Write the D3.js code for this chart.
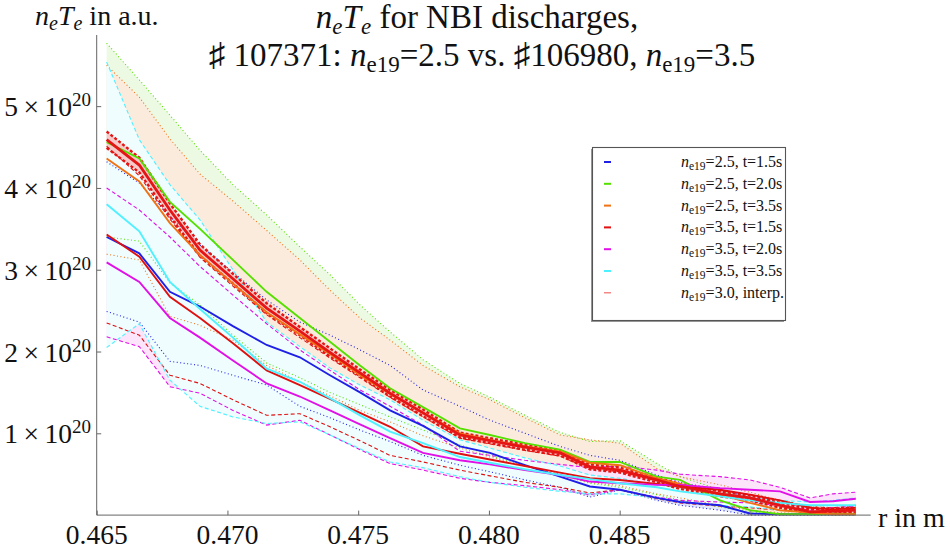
<!DOCTYPE html>
<html>
<head>
<meta charset="utf-8">
<script src="https://cdn.jsdelivr.net/npm/d3@7"></script>
<style>
body { margin: 0; background: #fff; }
</style>
</head>
<body>
<div id="chart"></div>
<script>
// radius grid in m, values in units of 1e20
var rGrid = [0.46538, 0.46663, 0.46780, 0.46895, 0.47021, 0.47150, 0.47277, 0.47392, 0.47507, 0.47622, 0.47748, 0.47889, 0.48004, 0.48138, 0.48272, 0.48386, 0.48501, 0.48642, 0.48731, 0.48884, 0.48998, 0.49113, 0.49228, 0.49316, 0.49403];

var blueMean  = [3.40,3.20,2.73,2.55,2.31,2.08,1.93,1.71,1.50,1.28,1.09,0.84,0.76,0.61,0.47,0.35,0.31,0.21,0.16,0.12,0.02,0.01,0.01,0.01,0.01];
var blueUpper = [4.32,4.06,3.65,3.30,2.97,2.63,2.36,2.20,2.02,1.83,1.53,1.33,1.16,1.00,0.84,0.73,0.67,0.49,0.40,0.31,0.22,0.15,0.09,0.06,0.05];
var blueLower = [2.49,2.36,1.88,1.83,1.71,1.59,1.33,1.19,1.04,0.90,0.73,0.61,0.53,0.43,0.34,0.22,0.31,0.18,0.12,0.06,0.00,0.00,0.00,0.00,0.00];

var greenMean  = [4.56,4.36,3.83,3.50,3.12,2.73,2.41,2.12,1.83,1.55,1.32,1.06,0.98,0.88,0.80,0.65,0.65,0.47,0.43,0.18,0.06,0.01,0.01,0.01,0.01];
var greenUpper = [5.77,5.32,4.89,4.46,4.04,3.67,3.28,2.94,2.57,2.24,1.90,1.61,1.44,1.22,1.01,0.90,0.91,0.63,0.47,0.31,0.18,0.09,0.04,0.03,0.03];
var greenLower = [3.40,3.35,2.84,2.57,2.20,1.86,1.68,1.50,1.35,1.20,1.04,0.86,0.73,0.61,0.49,0.39,0.34,0.25,0.18,0.10,0.04,0.01,0.01,0.01,0.01];

var orangeMean  = [4.36,4.08,3.57,3.18,2.83,2.48,2.21,1.97,1.71,1.48,1.25,1.00,0.92,0.84,0.78,0.64,0.61,0.45,0.38,0.25,0.15,0.06,0.03,0.01,0.01];
var orangeUpper = [5.50,5.11,4.60,4.17,3.84,3.48,3.12,2.75,2.41,2.14,1.83,1.57,1.41,1.19,0.98,0.92,0.88,0.57,0.47,0.37,0.28,0.18,0.11,0.09,0.06];
var orangeLower = [3.19,3.12,2.43,2.32,2.14,1.83,1.63,1.46,1.28,1.14,0.97,0.82,0.71,0.60,0.50,0.40,0.36,0.26,0.21,0.12,0.06,0.03,0.01,0.01,0.01];

var redMean  = [3.43,3.16,2.67,2.41,2.10,1.77,1.59,1.42,1.25,1.08,0.84,0.75,0.68,0.60,0.52,0.45,0.43,0.38,0.35,0.31,0.25,0.18,0.09,0.07,0.09];
var redUpper = [4.51,4.15,3.62,3.15,2.80,2.45,2.17,1.92,1.68,1.44,1.20,0.94,0.87,0.79,0.72,0.57,0.53,0.42,0.36,0.30,0.25,0.18,0.10,0.09,0.12];
var redLower = [2.35,2.20,1.71,1.61,1.41,1.22,1.24,1.08,0.91,0.73,0.65,0.55,0.48,0.40,0.34,0.27,0.31,0.20,0.15,0.11,0.09,0.06,0.04,0.04,0.04];

var magentaMean  = [3.09,2.85,2.41,2.17,1.89,1.61,1.45,1.28,1.11,0.94,0.76,0.67,0.62,0.55,0.49,0.41,0.39,0.37,0.37,0.33,0.31,0.29,0.16,0.17,0.20];
var magentaUpper = [4.00,3.73,3.40,3.04,2.69,2.34,2.02,1.77,1.53,1.33,1.10,0.78,0.73,0.67,0.62,0.58,0.60,0.55,0.50,0.47,0.43,0.34,0.21,0.26,0.28];
var magentaLower = [2.18,2.06,1.57,1.49,1.28,1.10,1.16,0.98,0.80,0.63,0.55,0.45,0.40,0.36,0.31,0.25,0.31,0.22,0.18,0.16,0.15,0.12,0.06,0.09,0.11];

var cyanMean  = [3.80,3.47,2.85,2.52,2.17,1.79,1.63,1.43,1.22,1.02,0.88,0.71,0.64,0.56,0.49,0.44,0.39,0.34,0.29,0.23,0.18,0.15,0.12,0.12,0.12];
var cyanUpper = [5.54,4.59,4.04,3.61,3.00,2.36,2.06,1.80,1.59,1.41,1.16,0.92,0.82,0.70,0.60,0.49,0.45,0.37,0.33,0.27,0.22,0.18,0.16,0.18,0.21];
var cyanLower = [2.05,2.34,1.65,1.33,1.20,1.12,1.14,0.98,0.81,0.65,0.58,0.47,0.40,0.34,0.29,0.26,0.26,0.21,0.16,0.12,0.10,0.06,0.04,0.05,0.06];

var interpMean  = [4.59,4.28,3.73,3.24,2.89,2.53,2.25,1.99,1.74,1.49,1.25,0.98,0.91,0.83,0.76,0.59,0.55,0.43,0.35,0.26,0.21,0.12,0.04,0.05,0.06];
var interpUpper = [4.69,4.37,3.81,3.31,2.95,2.59,2.30,2.04,1.78,1.53,1.29,1.01,0.94,0.86,0.79,0.62,0.58,0.46,0.38,0.29,0.24,0.15,0.07,0.08,0.09];
var interpLower = [4.49,4.19,3.65,3.17,2.83,2.47,2.20,1.94,1.70,1.45,1.21,0.95,0.88,0.80,0.73,0.56,0.52,0.40,0.32,0.23,0.18,0.09,0.02,0.02,0.03];

var legendLabels = ["=2.5, t=1.5s", "=2.5, t=2.0s", "=2.5, t=3.5s", "=3.5, t=1.5s", "=3.5, t=2.0s", "=3.5, t=3.5s", "=3.0, interp."];
var xTicks = [0.465, 0.470, 0.475, 0.480, 0.485, 0.490];
var yTicks = [1, 2, 3, 4, 5];

var width = 950, height = 551;
var serif = "Liberation Serif, Times New Roman, DejaVu Serif, serif";

var svg = d3.select("#chart").append("svg")
    .attr("width", width)
    .attr("height", height)
    .attr("font-family", serif);

var x = d3.scaleLinear().domain([0.465, 0.4946]).range([96.7, 870.7]);
var y = d3.scaleLinear().domain([0, 5.87]).range([515.1, 35]);

// series: colour, fill, bound style
var series = [
    {mean: blueMean,    up: blueUpper,    lo: blueLower,    color: "#1f1fe6", fill: "#e2e9fc", dash: "1,2.5"},
    {mean: greenMean,   up: greenUpper,   lo: greenLower,   color: "#55e000", fill: "#ecfae3", dash: "1,2.5"},
    {mean: orangeMean,  up: orangeUpper,  lo: orangeLower,  color: "#f07214", fill: "#fbebdc", dash: "1,2.5"},
    {mean: redMean,     up: redUpper,     lo: redLower,     color: "#e01010", fill: null,      dash: "4,2.5"},
    {mean: magentaMean, up: magentaUpper, lo: magentaLower, color: "#e010e6", fill: "#fce5fa", dash: "4,2.5"},
    {mean: cyanMean,    up: cyanUpper,    lo: cyanLower,    color: "#4ff0ff", fill: "#effdfe", dash: "4,2.5"}
];

var line = d3.line()
    .x(function(d, i){ return x(rGrid[i]); })
    .y(function(d){ return y(d); });

function band(up, lo){
    return d3.area()
        .x(function(d, i){ return x(rGrid[i]); })
        .y0(function(d, i){ return y(lo[i]); })
        .y1(function(d){ return y(d); })(up);
}

//fills, later ones sit on top
var fillOrder = [0, 1, 2, 4, 5];
fillOrder.forEach(function(k){
    var s = series[k];
    svg.append("path").attr("d", band(s.up, s.lo)).attr("fill", s.fill).attr("stroke", "none");
});
svg.append("path").attr("d", band(interpUpper, interpLower)).attr("fill", "#f7c9c9");

//bounds
series.forEach(function(s){
    [s.up, s.lo].forEach(function(arr){
        svg.append("path").attr("d", line(arr))
            .attr("fill", "none")
            .attr("stroke", s.color)
            .attr("stroke-width", 1.1)
            .attr("stroke-dasharray", s.dash);
    });
});

//interp band edges
[interpUpper, interpLower].forEach(function(arr){
    svg.append("path").attr("d", line(arr))
        .attr("fill", "none")
        .attr("stroke", "#e51515")
        .attr("stroke-width", 2.4)
        .attr("stroke-dasharray", "3,2");
});

//means
series.forEach(function(s){
    svg.append("path").attr("d", line(s.mean))
        .attr("fill", "none")
        .attr("stroke", s.color)
        .attr("stroke-width", 1.9);
});
svg.append("path").attr("d", line(interpMean))
    .attr("fill", "none")
    .attr("stroke", "#e51515")
    .attr("stroke-width", 2.8);

// axes
var axisColor = "#666";
var xMinor = d3.range(0, 30).map(function(i){ return 0.465 + i * 0.001; });
var yMinor = d3.range(1, 30).map(function(i){ return i * 0.2; });

var gx = svg.append("g").attr("transform", "translate(0," + y(0) + ")");
gx.call(d3.axisBottom(x).tickValues(xMinor).tickSize(-2.5).tickFormat(""));
gx.call(d3.axisBottom(x).tickValues(xTicks).tickSize(-4.5).tickFormat(""));
gx.selectAll("path.domain").attr("d", "M96.7,0H870.7");

var gy = svg.append("g").attr("transform", "translate(" + x(0.465) + ",0)");
gy.call(d3.axisLeft(y).tickValues(yMinor).tickSize(-2.5).tickFormat(""));
gy.call(d3.axisLeft(y).tickValues(yTicks).tickSize(-4.5).tickFormat(""));
gy.selectAll("path.domain").attr("d", "M0,35V" + y(0));

svg.selectAll(".domain, .tick line").attr("stroke", axisColor).attr("stroke-width", 1);

// tick labels
var labelColor = "#111";
xTicks.forEach(function(t){
    svg.append("text")
        .attr("x", x(t)).attr("y", 544)
        .attr("text-anchor", "middle")
        .attr("font-size", 27.5)
        .attr("fill", labelColor)
        .text(t.toFixed(3));
});

yTicks.forEach(function(t){
    var tx = svg.append("text")
        .attr("x", 91).attr("y", y(t) + 10)
        .attr("text-anchor", "end")
        .attr("font-size", 27.5)
        .attr("fill", labelColor);
    tx.append("tspan").text(t + "\u2009\u00d7\u200910");
    tx.append("tspan").attr("dy", -10).attr("font-size", 19).text("20");
});

svg.append("text").attr("x", 878).attr("y", 527).attr("font-size", 28).attr("fill", labelColor).text("r in m");

// y label
var yl = svg.append("text").attr("x", 35).attr("y", 25).attr("font-size", 28).attr("fill", labelColor);
yl.append("tspan").attr("font-style", "italic").text("n");
yl.append("tspan").attr("font-style", "italic").attr("font-size", 20).attr("dy", 5).text("e");
yl.append("tspan").attr("font-style", "italic").attr("dy", -5).text("T");
yl.append("tspan").attr("font-style", "italic").attr("font-size", 20).attr("dy", 5).text("e");
yl.append("tspan").attr("dy", -5).text(" in a.u.");

// title
var t1 = svg.append("text").attr("x", 477).attr("y", 28).attr("text-anchor", "middle").attr("font-size", 33).attr("fill", labelColor);
t1.append("tspan").attr("font-style", "italic").text("n");
t1.append("tspan").attr("font-style", "italic").attr("font-size", 23).attr("dy", 6).text("e");
t1.append("tspan").attr("font-style", "italic").attr("dy", -6).text("T");
t1.append("tspan").attr("font-style", "italic").attr("font-size", 23).attr("dy", 6).text("e");
t1.append("tspan").attr("dy", -6).text(" for NBI discharges,");

var t2 = svg.append("text").attr("x", 482).attr("y", 66).attr("text-anchor", "middle").attr("font-size", 33).attr("fill", labelColor);
t2.append("tspan").text("\u266f 107371: ");
t2.append("tspan").attr("font-style", "italic").text("n");
t2.append("tspan").attr("font-size", 23).attr("dy", 6).text("e19");
t2.append("tspan").attr("dy", -6).text("=2.5 vs. \u266f106980, ");
t2.append("tspan").attr("font-style", "italic").text("n");
t2.append("tspan").attr("font-size", 23).attr("dy", 6).text("e19");
t2.append("tspan").attr("dy", -6).text("=3.5");

// legend with a small drop shadow
var legendColors = series.map(function(s){ return s.color; }).concat(["#f06a6a"]);
var lg = svg.append("g");
lg.append("rect").attr("x", 591).attr("y", 149).attr("width", 193).attr("height", 173)
    .attr("fill", "#999");
lg.append("rect").attr("x", 592.5).attr("y", 147.5).attr("width", 193).attr("height", 173)
    .attr("fill", "#fff").attr("stroke", "#555").attr("stroke-width", 1.1);
legendLabels.forEach(function(lab, i){
    var cy = 162 + i * 21.8;
    lg.append("line").attr("x1", 604).attr("x2", 611).attr("y1", cy).attr("y2", cy)
        .attr("stroke", legendColors[i]).attr("stroke-width", i == 6 ? 1.2 : 2);
    var tx = lg.append("text").attr("x", 681).attr("y", cy + 5).attr("font-size", 16).attr("fill", labelColor);
    tx.append("tspan").attr("font-style", "italic").text("n");
    tx.append("tspan").attr("font-size", 11.5).attr("dy", 3).text("e19");
    tx.append("tspan").attr("dy", -3).text(lab);
});
</script>
</body>
</html>
